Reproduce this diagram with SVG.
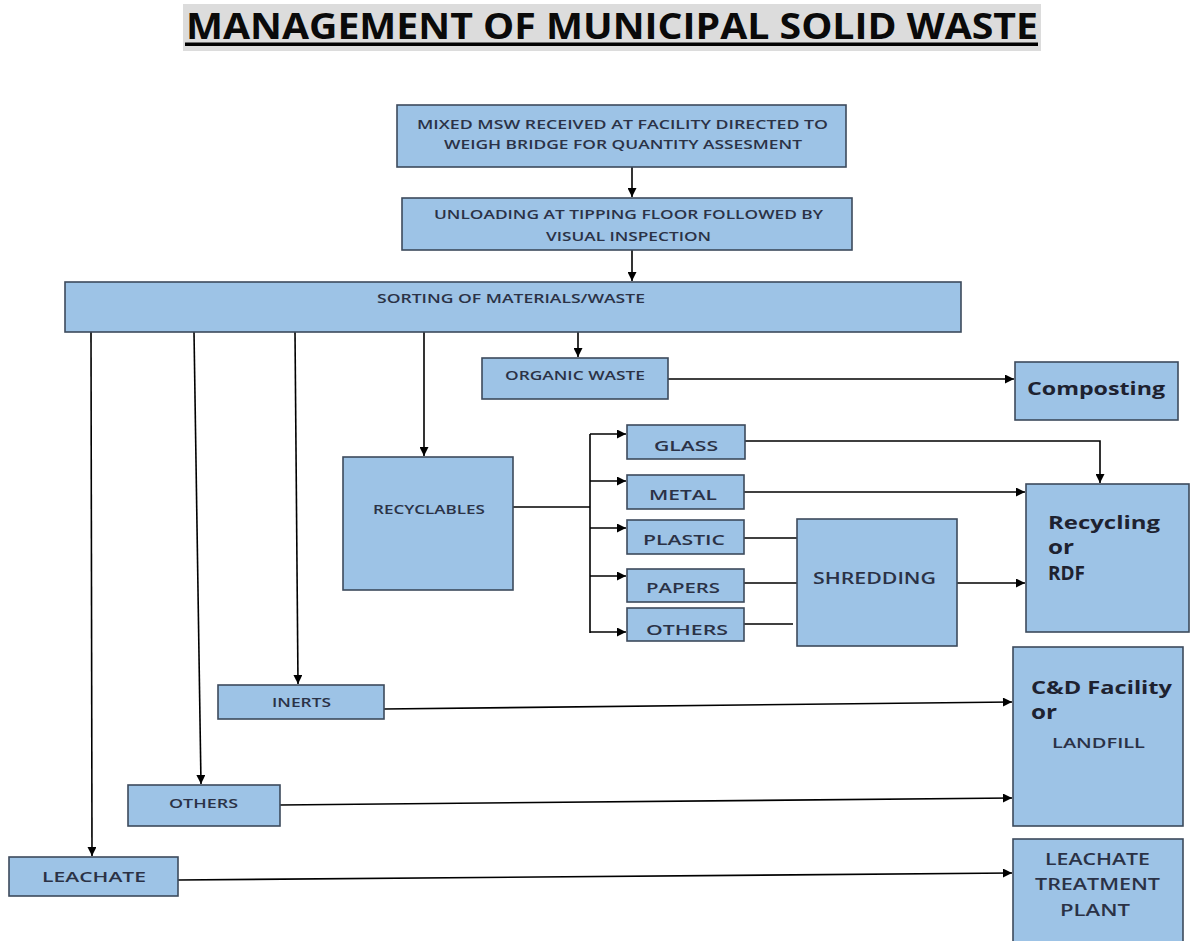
<svg xmlns="http://www.w3.org/2000/svg" width="1192" height="941" viewBox="0 0 1192 941">
<style>
.box{fill:#9dc3e6;stroke:#3d4a5c;stroke-width:1.6}
.t{font-family:"Open Sans","Liberation Sans",sans-serif;font-weight:600;fill:#2b3246}
.b{font-family:"Open Sans","Liberation Sans",sans-serif;font-weight:700;fill:#1e2230}
.c{fill:none;stroke:#000;stroke-width:1.6}
</style>
<defs>
<marker id="ah" viewBox="0 0 10 10" refX="10" refY="5" markerWidth="10" markerHeight="9" markerUnits="userSpaceOnUse" orient="auto">
<path d="M0,0 L10,5 L0,10 z" fill="#000"/>
</marker>
</defs>
<rect width="1192" height="941" fill="#fff"/>
<g id="title">
<rect x="183" y="4" width="858" height="47" fill="#dcdcdc"/>
<text x="186" y="39" font-size="36" class="b" style="fill:#0a0a0a" textLength="852" lengthAdjust="spacingAndGlyphs">MANAGEMENT OF MUNICIPAL SOLID WASTE</text>
<rect x="185" y="42.5" width="853" height="3.5" fill="#000"/>
</g>
<g id="connectors" class="c">
<path d="M632,167 V197" marker-end="url(#ah)"/>
<path d="M632,250 V281" marker-end="url(#ah)"/>
<path d="M578,332 V357" marker-end="url(#ah)"/>
<path d="M424,332 V456" marker-end="url(#ah)"/>
<path d="M295,332 L298,684" marker-end="url(#ah)"/>
<path d="M194,332 L201,784" marker-end="url(#ah)"/>
<path d="M91,332 L92,856" marker-end="url(#ah)"/>
<path d="M668,379 H1014" marker-end="url(#ah)"/>
<path d="M513,507 H590"/>
<path d="M590,434 V633"/>
<path d="M590,434 H626" marker-end="url(#ah)"/>
<path d="M590,481 H626" marker-end="url(#ah)"/>
<path d="M590,528 H626" marker-end="url(#ah)"/>
<path d="M590,576 H626" marker-end="url(#ah)"/>
<path d="M590,632 H626" marker-end="url(#ah)"/>
<path d="M745,441 H1100 V483" marker-end="url(#ah)"/>
<path d="M744,492 H1025" marker-end="url(#ah)"/>
<path d="M744,538 H797"/>
<path d="M744,583 H797"/>
<path d="M744,624 H793"/>
<path d="M957,583 H1025" marker-end="url(#ah)"/>
<path d="M384,709 L1012,702" marker-end="url(#ah)"/>
<path d="M280,805 L1012,798" marker-end="url(#ah)"/>
<path d="M178,880 L1012,873" marker-end="url(#ah)"/>
</g>
<g id="n-mixed">
<rect class="box" x="397" y="105" width="449" height="62"/>
<text class="t" x="417" y="129" font-size="12.5" textLength="411" lengthAdjust="spacingAndGlyphs">MIXED MSW RECEIVED AT FACILITY DIRECTED TO</text>
<text class="t" x="444" y="149" font-size="12.5" textLength="358" lengthAdjust="spacingAndGlyphs">WEIGH BRIDGE FOR QUANTITY ASSESMENT</text>
</g>
<g id="n-unloading">
<rect class="box" x="402" y="198" width="450" height="52"/>
<text class="t" x="434" y="219" font-size="12.5" textLength="389" lengthAdjust="spacingAndGlyphs">UNLOADING AT TIPPING FLOOR FOLLOWED BY</text>
<text class="t" x="546" y="241" font-size="12.5" textLength="165" lengthAdjust="spacingAndGlyphs">VISUAL INSPECTION</text>
</g>
<g id="n-sorting">
<rect class="box" x="65" y="282" width="896" height="50"/>
<text class="t" x="377" y="303" font-size="12" textLength="268" lengthAdjust="spacingAndGlyphs">SORTING OF MATERIALS/WASTE</text>
</g>
<g id="n-organic">
<rect class="box" x="482" y="358" width="186" height="41"/>
<text class="t" x="505" y="380" font-size="12" textLength="140" lengthAdjust="spacingAndGlyphs">ORGANIC WASTE</text>
</g>
<g id="n-composting">
<rect class="box" x="1015" y="362" width="163" height="58"/>
<text class="b" x="1027" y="395" font-size="18" textLength="138" lengthAdjust="spacingAndGlyphs">Composting</text>
</g>
<g id="n-recyclables">
<rect class="box" x="343" y="457" width="170" height="133"/>
<text class="t" x="373" y="514" font-size="12" textLength="112" lengthAdjust="spacingAndGlyphs">RECYCLABLES</text>
</g>
<g id="n-glass">
<rect class="box" x="627" y="425" width="118" height="34"/>
<text class="t" x="654" y="451" font-size="15" textLength="64" lengthAdjust="spacingAndGlyphs">GLASS</text>
</g>
<g id="n-metal">
<rect class="box" x="627" y="475" width="117" height="34"/>
<text class="t" x="649" y="500" font-size="15" textLength="68" lengthAdjust="spacingAndGlyphs">METAL</text>
</g>
<g id="n-plastic">
<rect class="box" x="627" y="520" width="117" height="34"/>
<text class="t" x="643" y="545" font-size="15" textLength="82" lengthAdjust="spacingAndGlyphs">PLASTIC</text>
</g>
<g id="n-papers">
<rect class="box" x="627" y="569" width="117" height="33"/>
<text class="t" x="646" y="593" font-size="15" textLength="74" lengthAdjust="spacingAndGlyphs">PAPERS</text>
</g>
<g id="n-others1">
<rect class="box" x="627" y="608" width="117" height="33"/>
<text class="t" x="646" y="635" font-size="15" textLength="82" lengthAdjust="spacingAndGlyphs">OTHERS</text>
</g>
<g id="n-shredding">
<rect class="box" x="797" y="519" width="160" height="127"/>
<text class="t" x="813" y="584" font-size="16" textLength="123" lengthAdjust="spacingAndGlyphs">SHREDDING</text>
</g>
<g id="n-recycling">
<rect class="box" x="1026" y="484" width="163" height="148"/>
<text class="b" x="1048" y="529" font-size="18" textLength="112" lengthAdjust="spacingAndGlyphs">Recycling</text>
<text class="b" x="1048" y="554" font-size="19" textLength="26" lengthAdjust="spacingAndGlyphs">or</text>
<text class="b" x="1048" y="580" font-size="19" textLength="37" lengthAdjust="spacingAndGlyphs">RDF</text>
</g>
<g id="n-inerts">
<rect class="box" x="218" y="685" width="166" height="34"/>
<text class="t" x="272" y="707" font-size="12" textLength="59" lengthAdjust="spacingAndGlyphs">INERTS</text>
</g>
<g id="n-others2">
<rect class="box" x="128" y="785" width="152" height="41"/>
<text class="t" x="169" y="808" font-size="12" textLength="69" lengthAdjust="spacingAndGlyphs">OTHERS</text>
</g>
<g id="n-leachate">
<rect class="box" x="9" y="857" width="169" height="39"/>
<text class="t" x="42" y="882" font-size="15" textLength="104" lengthAdjust="spacingAndGlyphs">LEACHATE</text>
</g>
<g id="n-cd">
<rect class="box" x="1013" y="647" width="170" height="179"/>
<text class="b" x="1031" y="694" font-size="18" textLength="141" lengthAdjust="spacingAndGlyphs">C&amp;D Facility</text>
<text class="b" x="1031" y="719" font-size="19" textLength="26" lengthAdjust="spacingAndGlyphs">or</text>
<text class="t" x="1052" y="748" font-size="15" textLength="93" lengthAdjust="spacingAndGlyphs">LANDFILL</text>
</g>
<g id="n-ltp">
<rect class="box" x="1013" y="839" width="170" height="110"/>
<text class="t" x="1045" y="865" font-size="16" textLength="105" lengthAdjust="spacingAndGlyphs">LEACHATE</text>
<text class="t" x="1035" y="890" font-size="16" textLength="125" lengthAdjust="spacingAndGlyphs">TREATMENT</text>
<text class="t" x="1060" y="916" font-size="16" textLength="70" lengthAdjust="spacingAndGlyphs">PLANT</text>
</g>
</svg>
